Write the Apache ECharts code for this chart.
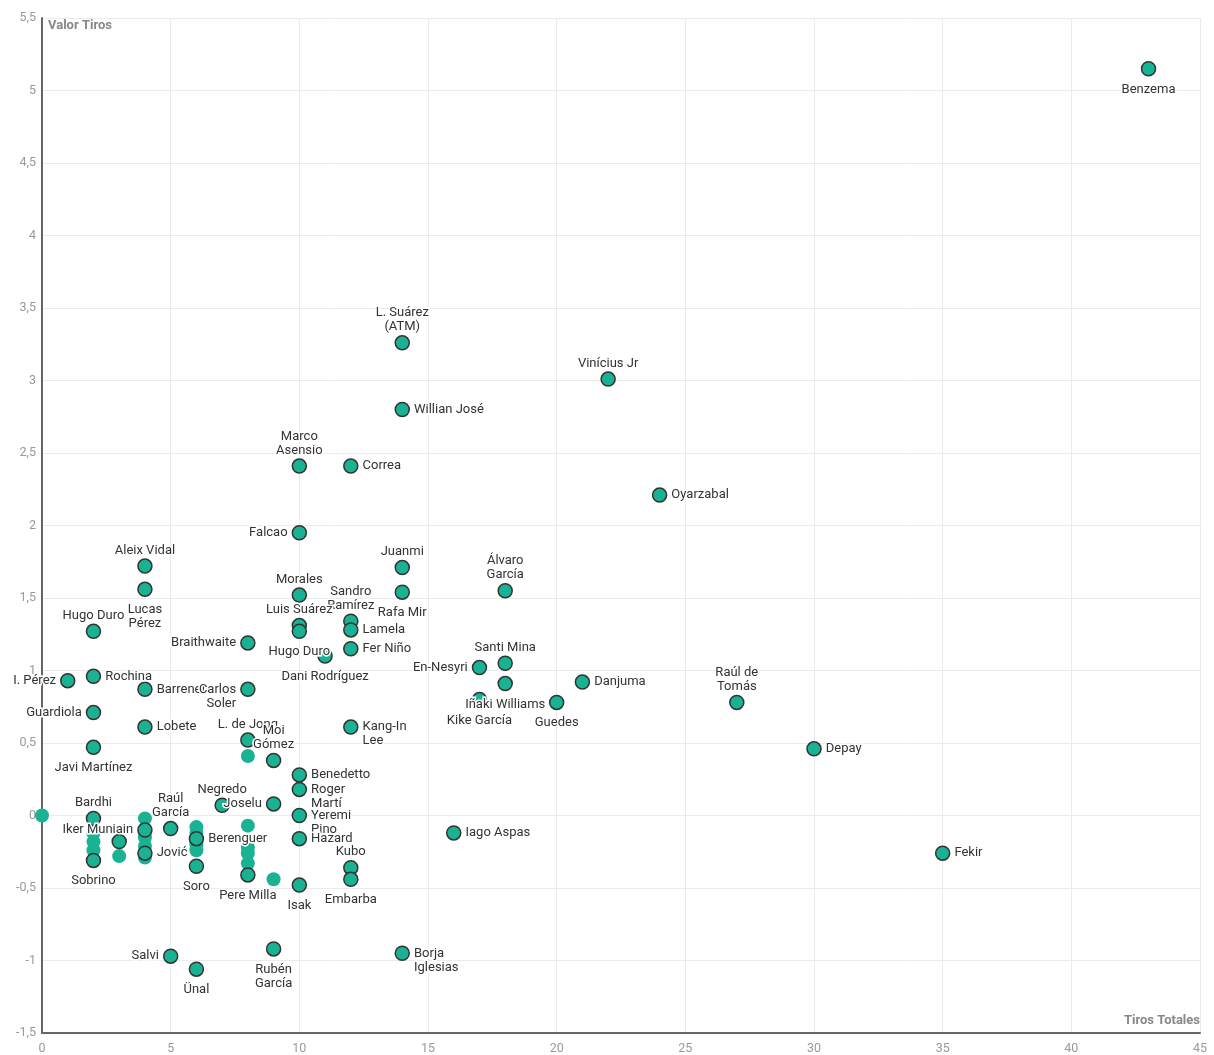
<!DOCTYPE html>
<html>
<head>
<meta charset="utf-8">
<script src="https://cdn.jsdelivr.net/npm/echarts@6/dist/echarts.min.js"></script>
<style>
html,body{margin:0;padding:0;background:#fff;}
#chart{width:1214px;height:1055px;}
</style>
</head>
<body>
<div id="chart"></div>
<script>
// Labeled players
const playerNames = [
  'Benzema','L. Suárez\n(ATM)','Vinícius Jr','Willian José','Marco\nAsensio','Correa','Oyarzabal','Falcao',
  'Aleix Vidal','Juanmi','Lucas\nPérez','Álvaro\nGarcía','Morales','Rafa Mir','Sandro\nRamírez','Luis Suárez',
  'Hugo Duro','Lamela','Fer Niño','Braithwaite','Dani Rodríguez','Hugo Duro','Santi Mina','En-Nesyri',
  'Rochina','I. Pérez','Barrenetxea','Carlos\nSoler','Iñaki Williams','Kike García','Danjuma','Raúl de\nTomás',
  'Guedes','Guardiola','Lobete','Kang-In\nLee','Depay','Javi Martínez','L. de Jong','Moi\nGómez',
  'Benedetto','Roger\nMartí','Negredo','Joselu','Yeremi\nPino','Hazard','Kubo','Embarba',
  'Isak','Pere Milla','Soro','Berenguer','Jović','Sobrino','Bardhi','Iker Muniain',
  '','Raúl\nGarcía','Iago Aspas','Fekir','Salvi','Ünal','Rubén\nGarcía','Borja\nIglesias'
];
const playerShots = [
  43,14,22,14,10,12,24,10,
  4,14,4,18,10,14,12,10,
  10,12,12,8,11,2,18,17,
  2,1,4,8,18,17,21,27,
  20,2,4,12,30,2,8,9,
  10,10,7,9,10,10,12,12,
  10,8,6,6,4,2,2,4,
  3,5,16,35,5,6,9,14
];
const playerValue = [
  5.15,3.26,3.01,2.80,2.41,2.41,2.21,1.95,
  1.72,1.71,1.56,1.55,1.52,1.54,1.34,1.31,
  1.27,1.28,1.15,1.19,1.10,1.27,1.05,1.02,
  0.96,0.93,0.87,0.87,0.91,0.80,0.92,0.78,
  0.78,0.71,0.61,0.61,0.46,0.47,0.52,0.38,
  0.28,0.18,0.07,0.08,0.00,-0.16,-0.36,-0.44,
  -0.48,-0.41,-0.35,-0.16,-0.26,-0.31,-0.02,-0.10,
  -0.18,-0.09,-0.12,-0.26,-0.97,-1.06,-0.92,-0.95
];
// Unlabeled players
const otherShots = [0,2,2,2,3,4,4,4,4,6,6,6,6,8,8,8,8,9,8];
const otherValue = [0,-0.12,-0.18,-0.24,-0.28,-0.02,-0.15,-0.21,-0.29,-0.08,-0.12,-0.20,-0.24,-0.07,-0.22,-0.26,-0.33,-0.44,0.41];

const xTicks = {min:0, max:45, interval:5};
const yTicks = {min:-1.5, max:5.5, interval:0.5};

// label placement (style only)
const labelPlacement = [
  'bottom','top','top','right','top','right','right','left',
  'top','top','bottom','top','top','bottom','top','top',
  'bottom','right','right','left','bottom','top','top','left',
  'right','left','right','left','bottom','bottom','right','top',
  'bottom','left','right','right','right','bottom','top','top',
  'right','right','top','left','right','right','top','bottom',
  'bottom','bottom','bottom','right','right','bottom','top','left',
  'none','top','right','right','left','bottom','bottom','right'
];
const labelDistance = {top: 1, bottom: 6, left: 4, right: 4};

const FILL = '#19b394';
const mainData = playerNames.map((n, i) => {
  const pos = labelPlacement[i];
  const twoLine = n.indexOf('\n') >= 0 && (pos === 'left' || pos === 'right');
  return {
    name: n,
    value: [playerShots[i], playerValue[i]],
    label: pos === 'none' ? {show:false} : {
      show: true, position: pos,
      distance: labelDistance[pos],
      offset: twoLine ? [0,7] : [0,0]
    }
  };
});
const otherData = otherShots.map((x, i) => [x, otherValue[i]]);

const chart = echarts.init(document.getElementById('chart'));
const fmt = v => String(v).replace('.', ',');
chart.setOption({
  animation: false,
  backgroundColor: '#fff',
  grid: {left: 42, right: 14, top: 18, bottom: 20, containLabel: false},
  xAxis: {
    type: 'value', min: xTicks.min, max: xTicks.max, interval: xTicks.interval,
    name: 'Tiros Totales', nameLocation: 'end', nameGap: 0,
    nameTextStyle: {align: 'right', verticalAlign: 'bottom', padding: [0,0,6,0], color: '#888', fontWeight: 'bold', fontSize: 13, fontFamily: 'Roboto'},
    axisLine: {show: true, onZero: false, lineStyle: {color: '#666', width: 2}},
    axisTick: {show: false},
    axisLabel: {color: '#999', fontSize: 12.5, fontFamily: 'Roboto', margin: 9, formatter: fmt},
    splitLine: {show: true, lineStyle: {color: '#ebebeb', width: 1}}
  },
  yAxis: {
    type: 'value', min: yTicks.min, max: yTicks.max, interval: yTicks.interval,
    name: 'Valor Tiros', nameLocation: 'end', nameGap: -1,
    nameTextStyle: {align: 'left', verticalAlign: 'top', padding: [0,0,0,6], color: '#888', fontWeight: 'bold', fontSize: 13, fontFamily: 'Roboto'},
    axisLine: {show: true, onZero: false, lineStyle: {color: '#666', width: 2}},
    axisTick: {show: false},
    axisLabel: {color: '#999', fontSize: 12.5, fontFamily: 'Roboto', margin: 6, formatter: fmt},
    splitLine: {show: true, lineStyle: {color: '#ebebeb', width: 1}}
  },
  series: [
    {
      type: 'scatter', z: 1, symbolSize: 14, data: otherData,
      itemStyle: {color: FILL, opacity: 1},
      label: {show: false}
    },
    {
      type: 'scatter', z: 2, symbolSize: 14, data: mainData,
      itemStyle: {color: FILL, borderColor: '#333', borderWidth: 1.5, opacity: 1},
      label: {
        show: true, formatter: p => p.name, color: '#333', fontSize: 13, fontFamily: 'Roboto',
        lineHeight: 14, textBorderColor: '#fff', textBorderWidth: 3
      }
    }
  ]
});
</script>
</body>
</html>
